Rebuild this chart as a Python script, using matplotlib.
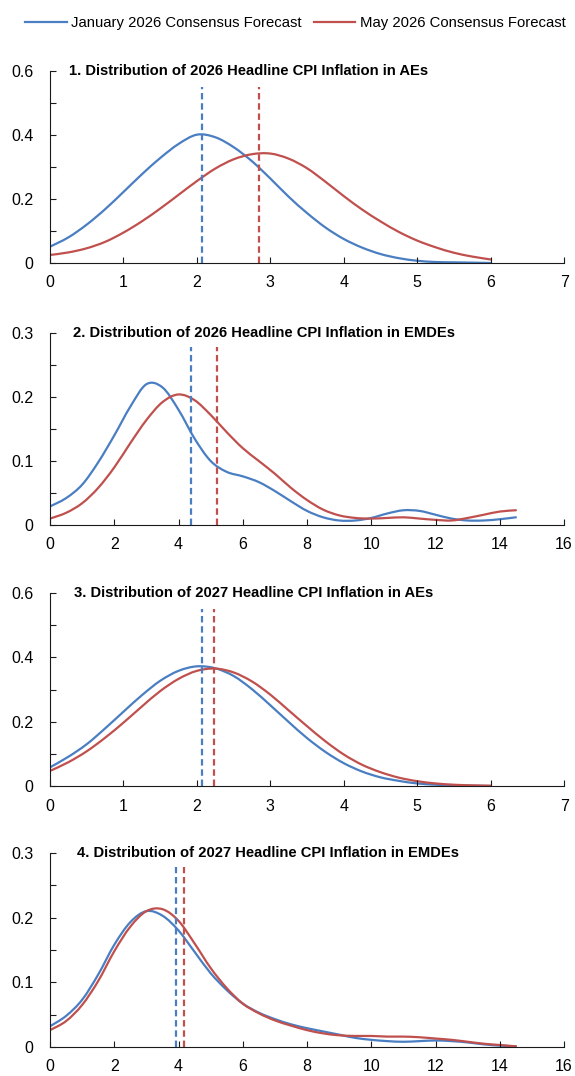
import numpy as np
import matplotlib.pyplot as plt
from matplotlib.lines import Line2D
from matplotlib.path import Path
from matplotlib.patches import PathPatch
from matplotlib.ticker import MultipleLocator

plt.rcParams['font.family'] = ['Liberation Sans', 'DejaVu Sans']

blue = '#4A7EC2'
red = '#C0504D'

# AE grids (step 0.25), EMDE grids (step 0.5)
x_ae = np.arange(0, 6.01, 0.25)
x_em = np.arange(0, 14.51, 0.5)

# 1. 2026 headline CPI, AEs
ae26_jan = [0.051, 0.08, 0.12, 0.168, 0.222, 0.277, 0.328, 0.372, 0.401, 0.393, 0.362,
            0.318, 0.264, 0.207, 0.156, 0.111, 0.075, 0.048, 0.028, 0.015, 0.007,
            0.003, 0.002, 0.001, 0.0]
ae26_may = [0.025, 0.033, 0.046, 0.066, 0.095, 0.13, 0.17, 0.213, 0.256, 0.295, 0.324,
            0.34, 0.342, 0.326, 0.296, 0.254, 0.209, 0.167, 0.13, 0.097, 0.07,
            0.049, 0.032, 0.02, 0.011]

# 2. 2026 headline CPI, EMDEs
em26_jan = [0.029, 0.042, 0.063, 0.098, 0.14, 0.185, 0.22, 0.215, 0.18, 0.135,
            0.1, 0.083, 0.076, 0.067, 0.053, 0.037, 0.022, 0.012, 0.007, 0.007,
            0.011, 0.018, 0.023, 0.022, 0.016, 0.01, 0.007, 0.007, 0.009, 0.012]
em26_may = [0.01, 0.019, 0.034, 0.058, 0.09, 0.128, 0.164, 0.192, 0.204, 0.195,
            0.172, 0.145, 0.12, 0.1, 0.08, 0.058, 0.039, 0.024, 0.015, 0.011,
            0.01, 0.011, 0.012, 0.01, 0.008, 0.007, 0.011, 0.016, 0.021, 0.023]

# 3. 2027 headline CPI, AEs
ae27_jan = [0.058, 0.091, 0.13, 0.179, 0.231, 0.282, 0.327, 0.358, 0.372, 0.366, 0.342,
            0.301, 0.251, 0.199, 0.149, 0.106, 0.071, 0.045, 0.027, 0.016, 0.008,
            0.004, 0.002, 0.001, 0.0]
ae27_may = [0.047, 0.074, 0.108, 0.15, 0.197, 0.247, 0.295, 0.333, 0.358, 0.365, 0.353,
            0.325, 0.284, 0.235, 0.186, 0.139, 0.098, 0.066, 0.043, 0.026, 0.015,
            0.008, 0.004, 0.002, 0.001]

# 4. 2027 headline CPI, EMDEs
em27_jan = [0.032, 0.048, 0.073, 0.112, 0.158, 0.193, 0.21, 0.203, 0.18, 0.147,
            0.114, 0.088, 0.067, 0.053, 0.043, 0.035, 0.029, 0.024, 0.019, 0.014,
            0.011, 0.009, 0.008, 0.009, 0.01, 0.009, 0.007, 0.004, 0.002, 0.001]
em27_may = [0.026, 0.04, 0.065, 0.102, 0.148, 0.186, 0.21, 0.213, 0.195, 0.16,
            0.122, 0.091, 0.067, 0.052, 0.041, 0.033, 0.026, 0.021, 0.018, 0.017,
            0.017, 0.016, 0.016, 0.015, 0.013, 0.011, 0.008, 0.005, 0.003, 0.001]

# consensus means (dashed lines)
mean_jan = [2.07, 4.39, 2.07, 3.91]
mean_may = [2.84, 5.19, 2.23, 4.17]

titles = ['1. Distribution of 2026 Headline CPI Inflation in AEs',
          '2. Distribution of 2026 Headline CPI Inflation in EMDEs',
          '3. Distribution of 2027 Headline CPI Inflation in AEs',
          '4. Distribution of 2027 Headline CPI Inflation in EMDEs']

panels = [(x_ae, ae26_jan, ae26_may), (x_em, em26_jan, em26_may),
          (x_ae, ae27_jan, ae27_may), (x_em, em27_jan, em27_may)]
xmax = [7, 16, 7, 16]
ymax = [0.6, 0.3, 0.6, 0.3]
title_x = [0.037, 0.045, 0.047, 0.053]
boxes = [(0.7556, 0.1784), (0.5121, 0.1784), (0.2695, 0.1794), (0.0270, 0.1803)]


def smooth_line(ax, x, y, color):
    # smoothed line like excel: bezier segments through the data points
    pts = np.column_stack([x, y])
    ext = np.vstack([pts[0], pts, pts[-1]])
    verts = [pts[0]]
    codes = [Path.MOVETO]
    for k in range(len(pts) - 1):
        p0, p1, p2, p3 = ext[k], ext[k + 1], ext[k + 2], ext[k + 3]
        verts += [p1 + (p2 - p0) / 6, p2 - (p3 - p1) / 6, p2]
        codes += [Path.CURVE4] * 3
    ax.add_patch(PathPatch(Path(verts, codes), fill=False, edgecolor=color, lw=1.6,
                           capstyle='round', joinstyle='round'))


fig = plt.figure(figsize=(5.75, 10.76), dpi=100)

for i in range(4):
    ax = fig.add_axes([0.087, boxes[i][0], 0.894, boxes[i][1]])
    x, jan, may = panels[i]
    smooth_line(ax, x, jan, blue)
    smooth_line(ax, x, may, red)
    lim = 0.55 if ymax[i] == 0.6 else 0.278
    ax.plot([mean_jan[i], mean_jan[i]], [0, lim], color=blue, lw=1.6, ls=(0, (2.9, 1.7)))
    ax.plot([mean_may[i], mean_may[i]], [0, lim], color=red, lw=1.6, ls=(0, (2.9, 1.7)))
    ax.set_xlim(0, xmax[i])
    ax.set_ylim(0, ymax[i])
    if xmax[i] == 7:
        ax.xaxis.set_major_locator(MultipleLocator(1))
        ax.yaxis.set_major_locator(MultipleLocator(0.2))
        ax.yaxis.set_minor_locator(MultipleLocator(0.1))
    else:
        ax.xaxis.set_major_locator(MultipleLocator(2))
        ax.yaxis.set_major_locator(MultipleLocator(0.1))
        ax.yaxis.set_minor_locator(MultipleLocator(0.05))
    ax.yaxis.set_major_formatter(plt.FuncFormatter(lambda v, p: '0' if v == 0 else f'{v:g}'))
    ax.spines['top'].set_visible(False)
    ax.spines['right'].set_visible(False)
    ax.spines['left'].set_color('#1a1a1a')
    ax.spines['bottom'].set_color('#1a1a1a')
    ax.tick_params(axis='both', direction='in', length=4, width=0.8, color='#1a1a1a',
                   labelsize=11.5)
    ax.tick_params(axis='x', pad=9)
    ax.tick_params(axis='y', pad=12)
    ax.tick_params(axis='y', which='minor', direction='in', length=4, width=0.8, color='#1a1a1a')
    ax.text(title_x[i], 1.0, titles[i], transform=ax.transAxes, fontsize=10.6,
            fontweight='bold', va='center', ha='left')

handles = [Line2D([], [], color=blue, lw=1.6), Line2D([], [], color=red, lw=1.6)]
fig.legend(handles, ['January 2026 Consensus Forecast', 'May 2026 Consensus Forecast'],
           loc='center', bbox_to_anchor=(0.514, 1 - 23 / 1076), ncol=2, frameon=False,
           fontsize=10.7, handlelength=2.8, handletextpad=0.3, columnspacing=0.8)

plt.savefig('out.png', dpi=100)
